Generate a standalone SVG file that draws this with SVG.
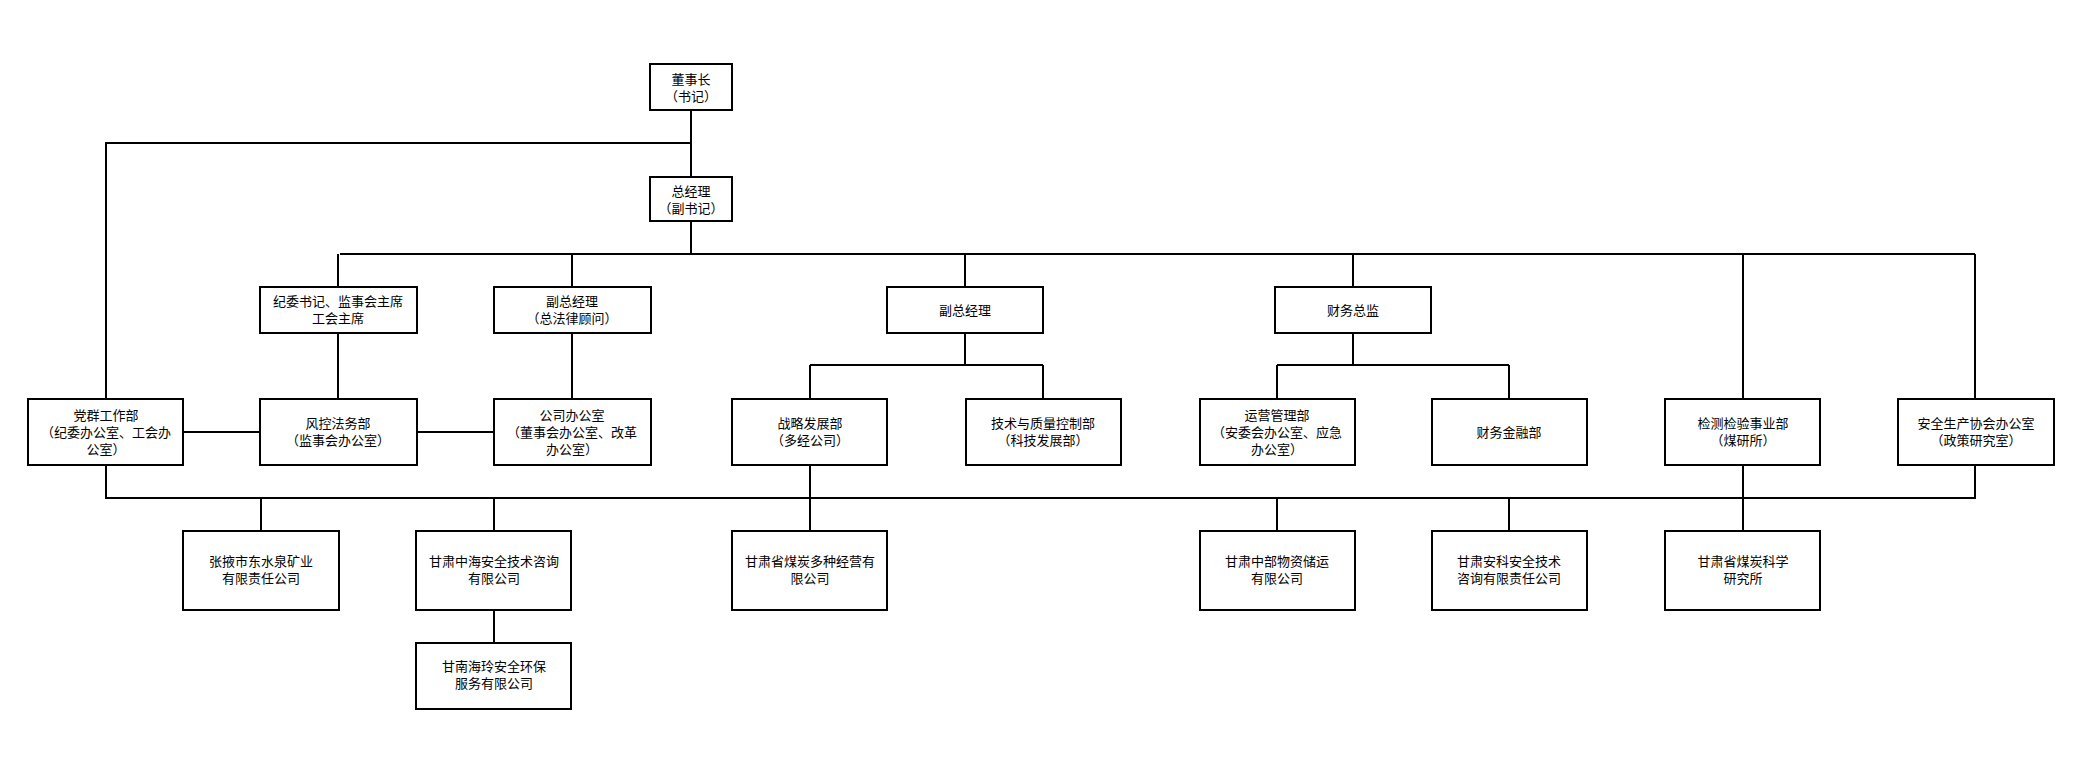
<svg xmlns="http://www.w3.org/2000/svg" width="2083" height="784" viewBox="0 0 2083 784">
<style>
.b{fill:#fff;stroke:#000;stroke-width:2}
.l{stroke:#000;stroke-width:2;fill:none}
text{font-family:"Noto Sans CJK SC",sans-serif;font-size:13px;text-anchor:middle;fill:#000}
</style>
<rect width="2083" height="784" fill="#fff"/>
<g id="connectors" class="l">
<path d="M691 110V177M691 221V254M691 143H106V399"/>
<path d="M340 254H1975M338 254V287M572 254V287M965 254V287M1353 254V287M1743 254V399M1975 254V399"/>
<path d="M338 333V399M572 333V399M183 432H260M417 432H494"/>
<path d="M965 333V365M810 365H1043M810 365V399M1043 365V399"/>
<path d="M1353 333V365M1277 365H1509M1277 365V399M1509 365V399"/>
<path d="M106 465V498H1975V465M261 498V531M494 498V531M810 465V531M1277 498V531M1509 498V531M1743 465V531M494 610V643"/>
</g>
<g id="n1"><rect class="b" x="650" y="64" width="82" height="46"/><text x="691" y="84">董事长</text><text x="691" y="101">（书记）</text></g>
<g id="n2"><rect class="b" x="650" y="177" width="82" height="44"/><text x="691" y="196">总经理</text><text x="691" y="213">（副书记）</text></g>
<g id="n3"><rect class="b" x="260" y="287" width="157" height="46"/><text x="338" y="306">纪委书记、监事会主席</text><text x="338" y="323">工会主席</text></g>
<g id="n4"><rect class="b" x="494" y="287" width="157" height="46"/><text x="572" y="306">副总经理</text><text x="572" y="323">（总法律顾问）</text></g>
<g id="n5"><rect class="b" x="887" y="287" width="156" height="46"/><text x="965" y="315">副总经理</text></g>
<g id="n6"><rect class="b" x="1275" y="287" width="156" height="46"/><text x="1353" y="315">财务总监</text></g>
<g id="n7"><rect class="b" x="28" y="399" width="155" height="66"/><text x="106" y="420">党群工作部</text><text x="106" y="437">（纪委办公室、工会办</text><text x="106" y="454">公室）</text></g>
<g id="n8"><rect class="b" x="260" y="399" width="157" height="66"/><text x="338" y="428">风控法务部</text><text x="338" y="445">（监事会办公室）</text></g>
<g id="n9"><rect class="b" x="494" y="399" width="157" height="66"/><text x="572" y="420">公司办公室</text><text x="572" y="437">（董事会办公室、改革</text><text x="572" y="454">办公室）</text></g>
<g id="n10"><rect class="b" x="732" y="399" width="155" height="66"/><text x="810" y="428">战略发展部</text><text x="810" y="445">（多经公司）</text></g>
<g id="n11"><rect class="b" x="966" y="399" width="155" height="66"/><text x="1043" y="428">技术与质量控制部</text><text x="1043" y="445">（科技发展部）</text></g>
<g id="n12"><rect class="b" x="1200" y="399" width="155" height="66"/><text x="1277" y="420">运营管理部</text><text x="1277" y="437">（安委会办公室、应急</text><text x="1277" y="454">办公室）</text></g>
<g id="n13"><rect class="b" x="1432" y="399" width="155" height="66"/><text x="1509" y="437">财务金融部</text></g>
<g id="n14"><rect class="b" x="1665" y="399" width="155" height="66"/><text x="1743" y="428">检测检验事业部</text><text x="1743" y="445">（煤研所）</text></g>
<g id="n15"><rect class="b" x="1898" y="399" width="156" height="66"/><text x="1976" y="428">安全生产协会办公室</text><text x="1976" y="445">（政策研究室）</text></g>
<g id="n16"><rect class="b" x="183" y="531" width="156" height="79"/><text x="261" y="566">张掖市东水泉矿业</text><text x="261" y="583">有限责任公司</text></g>
<g id="n17"><rect class="b" x="416" y="531" width="155" height="79"/><text x="494" y="566">甘肃中海安全技术咨询</text><text x="494" y="583">有限公司</text></g>
<g id="n18"><rect class="b" x="732" y="531" width="155" height="79"/><text x="810" y="566">甘肃省煤炭多种经营有</text><text x="810" y="583">限公司</text></g>
<g id="n19"><rect class="b" x="1200" y="531" width="155" height="79"/><text x="1277" y="566">甘肃中部物资储运</text><text x="1277" y="583">有限公司</text></g>
<g id="n20"><rect class="b" x="1432" y="531" width="155" height="79"/><text x="1509" y="566">甘肃安科安全技术</text><text x="1509" y="583">咨询有限责任公司</text></g>
<g id="n21"><rect class="b" x="1665" y="531" width="155" height="79"/><text x="1743" y="566">甘肃省煤炭科学</text><text x="1743" y="583">研究所</text></g>
<g id="n22"><rect class="b" x="416" y="643" width="155" height="66"/><text x="494" y="671">甘南海玲安全环保</text><text x="494" y="688">服务有限公司</text></g>
</svg>
